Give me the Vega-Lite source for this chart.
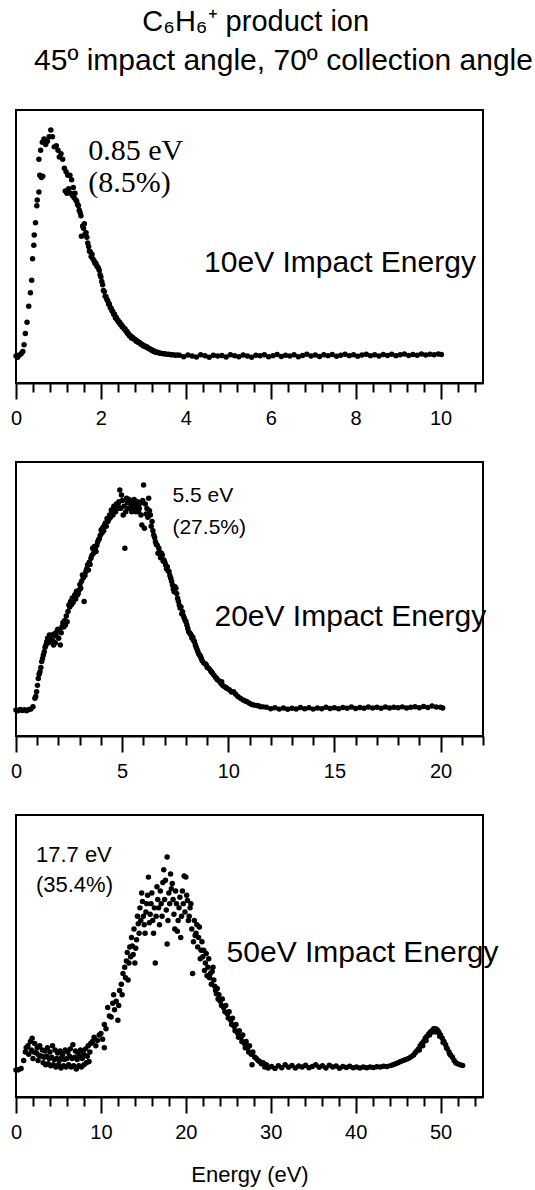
{
  "$schema": "https://vega.github.io/schema/vega-lite/v6.json",
  "background": "white",
  "padding": {"left": 9, "right": 5, "top": 8, "bottom": 5},
  "title": {"text": "C₆H₆⁺ product ion", "font": "Liberation Sans", "fontSize": 29, "fontWeight": "normal", "color": "black", "anchor": "middle", "dx": -16, "offset": 8},
  "spacing": 32,
  "config": {
    "view": {"stroke": "black", "strokeWidth": 2},
    "axis": {"labelFont": "Liberation Sans", "labelFontSize": 20, "labelColor": "black", "tickColor": "black", "tickWidth": 2, "domainColor": "black", "domainWidth": 2, "grid": false, "labelPadding": 9, "labelFlush": false, "labelOverlap": false, "labelBound": false, "titleFont": "Liberation Sans", "titleFontSize": 22, "titleFontWeight": "normal", "titleColor": "black"},
    "circle": {"color": "black", "size": 30, "opacity": 1},
    "text": {"color": "black"}
  },
  "vconcat": [
    {
      "width": 467, "height": 273,
      "title": {"text": "45º impact angle, 70º collection angle", "font": "Liberation Sans", "fontSize": 30, "fontWeight": "normal", "color": "black", "anchor": "middle", "dx": 34, "offset": 34},
      "encoding": {
        "x": {"field": "e", "type": "quantitative", "scale": {"domain": [0, 11], "nice": false, "zero": false},
          "axis": {"title": null, "values": [0,0.4,0.8,1.2,1.6,2,2.4,2.8,3.2,3.6,4,4.4,4.8,5.2,5.6,6,6.4,6.8,7.2,7.6,8,8.4,8.8,9.2,9.6,10,10.4,10.8],
            "labelExpr": "abs(datum.value/2-round(datum.value/2))<0.01 ? '' + round(datum.value) : ''",
            "tickSize": {"condition": {"test": "abs(datum.value/2-round(datum.value/2))<0.01", "value": 16}, "value": 9}}},
        "y": {"field": "i", "type": "quantitative", "scale": {"domain": [-0.119, 1.088], "nice": false, "zero": false}, "axis": null}
      },
      "layer": [
        {"data": {"values": [
          {"e":0.0,"i":0.0},{"e":0.04,"i":-0.005},{"e":0.08,"i":0.005},{"e":0.12,"i":0.01},{"e":0.16,"i":0.02},{"e":0.19,"i":0.05},{"e":0.22,"i":0.10},{"e":0.26,"i":0.15},{"e":0.30,"i":0.22},{"e":0.34,"i":0.28},{"e":0.37,"i":0.335},{"e":0.39,"i":0.43},{"e":0.42,"i":0.49},{"e":0.43,"i":0.535},{"e":0.46,"i":0.59},{"e":0.49,"i":0.665},{"e":0.50,"i":0.69},{"e":0.54,"i":0.725},{"e":0.56,"i":0.80},{"e":0.60,"i":0.79},{"e":0.63,"i":0.795},{"e":0.54,"i":0.87},{"e":0.58,"i":0.91},{"e":0.62,"i":0.945},{"e":0.66,"i":0.96},{"e":0.70,"i":0.935},{"e":0.74,"i":0.95},{"e":0.78,"i":0.97},{"e":0.82,"i":1.0},{"e":0.86,"i":0.97},{"e":0.90,"i":0.925},{"e":0.95,"i":0.93},{"e":0.99,"i":0.91},{"e":1.02,"i":0.88},{"e":1.06,"i":0.895},{"e":1.10,"i":0.87},{"e":1.14,"i":0.83},{"e":1.18,"i":0.815},{"e":1.22,"i":0.80},{"e":1.27,"i":0.80},{"e":1.31,"i":0.78},{"e":1.16,"i":0.73},{"e":1.20,"i":0.72},{"e":1.24,"i":0.74},{"e":1.29,"i":0.72},{"e":1.33,"i":0.71},{"e":1.37,"i":0.70},{"e":1.41,"i":0.69},{"e":1.45,"i":0.67},{"e":1.49,"i":0.645},{"e":1.53,"i":0.62},{"e":1.57,"i":0.575},{"e":1.54,"i":0.53},{"e":1.61,"i":0.585},{"e":1.65,"i":0.545},{"e":1.69,"i":0.50},{"e":1.73,"i":0.465},{"e":1.77,"i":0.44},{"e":1.81,"i":0.43},{"e":1.86,"i":0.41},{"e":1.90,"i":0.40},{"e":1.94,"i":0.39},{"e":1.98,"i":0.36},{"e":2.02,"i":0.33},{"e":2.06,"i":0.29},{"e":2.10,"i":0.265},{"e":2.14,"i":0.25},{"e":2.18,"i":0.23},{"e":2.22,"i":0.215},{"e":2.26,"i":0.20},{"e":2.30,"i":0.185},{"e":2.34,"i":0.17},{"e":2.38,"i":0.16},{"e":2.42,"i":0.15},{"e":2.46,"i":0.14},{"e":2.50,"i":0.13},{"e":2.55,"i":0.12},{"e":2.59,"i":0.11},{"e":2.63,"i":0.10},{"e":2.67,"i":0.09},{"e":2.72,"i":0.08},{"e":2.77,"i":0.075},{"e":2.83,"i":0.066},{"e":2.88,"i":0.06},{"e":2.94,"i":0.052},{"e":3.00,"i":0.045},{"e":3.06,"i":0.04},{"e":3.12,"i":0.033},{"e":3.18,"i":0.027},{"e":3.24,"i":0.02},{"e":3.30,"i":0.016},{"e":3.38,"i":0.013},{"e":3.46,"i":0.01},{"e":3.55,"i":0.008},{"e":3.65,"i":0.006},{"e":3.75,"i":0.004},
          {"e":1.35,"i":0.745},{"e":1.39,"i":0.72},{"e":1.43,"i":0.685},{"e":1.47,"i":0.665},{"e":1.51,"i":0.635},{"e":1.59,"i":0.565},{"e":1.63,"i":0.54},{"e":1.67,"i":0.525},{"e":1.71,"i":0.485},{"e":1.75,"i":0.46},{"e":1.79,"i":0.45},{"e":1.84,"i":0.42},{"e":1.88,"i":0.41},{"e":1.92,"i":0.395},{"e":1.96,"i":0.38},{"e":2.00,"i":0.35},{"e":2.04,"i":0.315},{"e":2.08,"i":0.285},{"e":2.12,"i":0.262},{"e":2.16,"i":0.245},{"e":2.20,"i":0.23},{"e":2.24,"i":0.212},{"e":2.28,"i":0.197},{"e":2.32,"i":0.185},{"e":2.36,"i":0.172},{"e":2.40,"i":0.16},{"e":2.44,"i":0.15},{"e":2.48,"i":0.14},{"e":2.52,"i":0.13},{"e":2.57,"i":0.12},{"e":2.61,"i":0.11},{"e":2.65,"i":0.10},{"e":2.70,"i":0.09},{"e":2.75,"i":0.082},{"e":2.80,"i":0.075},{"e":2.86,"i":0.067},{"e":2.91,"i":0.06},{"e":2.97,"i":0.052},{"e":3.03,"i":0.046},{"e":3.09,"i":0.04},{"e":3.15,"i":0.033},{"e":3.21,"i":0.027},{"e":3.27,"i":0.021},{"e":3.34,"i":0.017},{"e":3.42,"i":0.013},{"e":3.50,"i":0.01},{"e":3.60,"i":0.008},{"e":3.70,"i":0.006},{"e":3.80,"i":0.005},
          {"e":3.85,"i":0.004},{"e":3.95,"i":-0.003},{"e":4.05,"i":0.005},{"e":4.15,"i":0.0},{"e":4.25,"i":-0.004},{"e":4.35,"i":0.006},{"e":4.45,"i":0.001},{"e":4.55,"i":-0.005},{"e":4.65,"i":0.004},{"e":4.75,"i":0.0},{"e":4.85,"i":0.003},{"e":4.95,"i":-0.004},{"e":5.05,"i":0.006},{"e":5.15,"i":0.001},{"e":5.25,"i":-0.003},{"e":5.35,"i":0.005},{"e":5.45,"i":0.0},{"e":5.55,"i":-0.005},{"e":5.65,"i":0.004},{"e":5.75,"i":0.001},{"e":5.85,"i":0.006},{"e":5.95,"i":-0.003},{"e":6.05,"i":0.002},{"e":6.15,"i":0.007},{"e":6.25,"i":-0.002},{"e":6.35,"i":0.004},{"e":6.45,"i":0.0},{"e":6.55,"i":0.006},{"e":6.65,"i":-0.003},{"e":6.75,"i":0.003},{"e":6.85,"i":0.008},{"e":6.95,"i":0.0},{"e":7.05,"i":0.005},{"e":7.15,"i":-0.002},{"e":7.25,"i":0.006},{"e":7.35,"i":0.002},{"e":7.45,"i":0.007},{"e":7.55,"i":-0.001},{"e":7.65,"i":0.004},{"e":7.75,"i":0.008},{"e":7.85,"i":0.002},{"e":7.95,"i":0.006},{"e":8.05,"i":-0.001},{"e":8.15,"i":0.005},{"e":8.25,"i":0.008},{"e":8.35,"i":0.002},{"e":8.45,"i":0.006},{"e":8.55,"i":0.0},{"e":8.65,"i":0.007},{"e":8.75,"i":0.003},{"e":8.85,"i":0.008},{"e":8.95,"i":0.002},{"e":9.05,"i":0.006},{"e":9.15,"i":0.009},{"e":9.25,"i":0.003},{"e":9.35,"i":0.007},{"e":9.45,"i":0.004},{"e":9.55,"i":0.009},{"e":9.65,"i":0.005},{"e":9.75,"i":0.008},{"e":9.85,"i":0.006},{"e":9.95,"i":0.009},{"e":10.02,"i":0.007}
        ]}, "mark": {"type": "circle"}},
        {"data": {"values": [{"e":1.70,"i":0.867,"t":"0.85 eV"},{"e":1.70,"i":0.726,"t":"(8.5%)"}]},
          "mark": {"type": "text", "font": "Liberation Serif", "fontSize": 30, "align": "left", "baseline": "alphabetic"},
          "encoding": {"text": {"field": "t"}}},
        {"data": {"values": [{"e":4.43,"i":0.372,"t":"10eV Impact Energy"}]},
          "mark": {"type": "text", "font": "Liberation Sans", "fontSize": 30, "align": "left", "baseline": "alphabetic"},
          "encoding": {"text": {"field": "t"}}}
      ]
    },
    {
      "width": 467, "height": 274,
      "encoding": {
        "x": {"field": "e", "type": "quantitative", "scale": {"domain": [0, 22], "nice": false, "zero": false},
          "axis": {"title": null, "values": [0,1,2,3,4,5,6,7,8,9,10,11,12,13,14,15,16,17,18,19,20,21,22],
            "labelExpr": "datum.value % 5 === 0 && datum.value <= 20 ? datum.label : ''",
            "tickSize": {"condition": {"test": "datum.value % 5 === 0", "value": 16}, "value": 9}}},
        "y": {"field": "i", "type": "quantitative", "scale": {"domain": [-0.116, 1.107], "nice": false, "zero": false}, "axis": null}
      },
      "layer": [
        {"data": {"values": [
          {"e":0.0,"i":0.0},{"e":0.1,"i":-0.003},{"e":0.2,"i":0.002},{"e":0.3,"i":-0.002},{"e":0.4,"i":0.001},{"e":0.5,"i":-0.003},{"e":0.6,"i":0.002},{"e":0.7,"i":0.004},{"e":0.8,"i":0.015},
          {"e":0.89,"i":0.052},{"e":0.97,"i":0.082},{"e":1.05,"i":0.141},{"e":1.13,"i":0.171},{"e":1.21,"i":0.216},{"e":1.29,"i":0.246},{"e":1.45,"i":0.305},{"e":1.61,"i":0.312},{"e":1.69,"i":0.335},{"e":1.77,"i":0.29},{"e":1.93,"i":0.35},{"e":2.09,"i":0.29},{"e":2.17,"i":0.372},{"e":2.33,"i":0.38},{"e":2.41,"i":0.394},{"e":2.49,"i":0.469},{"e":2.57,"i":0.484},{"e":2.73,"i":0.50},{"e":2.89,"i":0.513},{"e":2.97,"i":0.536},{"e":3.05,"i":0.543},{"e":3.21,"i":0.484},{"e":3.13,"i":0.603},{"e":3.29,"i":0.618},{"e":3.37,"i":0.647},{"e":3.53,"i":0.677},{"e":3.61,"i":0.722},{"e":3.77,"i":0.707},{"e":3.85,"i":0.751},{"e":3.93,"i":0.766},{"e":4.01,"i":0.804},{"e":4.17,"i":0.826},{"e":4.33,"i":0.841},{"e":4.49,"i":0.893},{"e":4.65,"i":0.90},{"e":4.81,"i":0.915},{"e":4.89,"i":0.982},{"e":4.97,"i":0.96},{"e":5.05,"i":0.87},{"e":5.13,"i":0.722},{"e":5.21,"i":0.945},{"e":5.29,"i":0.90},{"e":5.37,"i":0.923},{"e":5.45,"i":0.885},{"e":5.53,"i":0.93},{"e":5.61,"i":0.90},{"e":5.69,"i":0.915},{"e":5.77,"i":0.885},{"e":5.85,"i":0.923},{"e":5.93,"i":0.826},{"e":6.01,"i":1.004},{"e":6.05,"i":0.811},{"e":6.17,"i":0.90},{"e":6.25,"i":0.945},{"e":6.33,"i":0.87},{"e":6.41,"i":0.841},{"e":6.49,"i":0.781},{"e":6.57,"i":0.751},{"e":6.73,"i":0.722},{"e":6.89,"i":0.692},{"e":7.05,"i":0.647},{"e":7.21,"i":0.618},{"e":7.29,"i":0.588},{"e":7.37,"i":0.558},{"e":7.45,"i":0.528},{"e":7.53,"i":0.543},{"e":7.61,"i":0.499},{"e":7.69,"i":0.469},{"e":7.85,"i":0.439},{"e":8.01,"i":0.394},{"e":8.09,"i":0.365},{"e":8.25,"i":0.335},{"e":8.41,"i":0.305},{"e":8.57,"i":0.26},{"e":8.73,"i":0.23},{"e":8.97,"i":0.20},{"e":9.21,"i":0.17},{"e":9.45,"i":0.141},{"e":9.69,"i":0.126},{"e":9.93,"i":0.097},{"e":10.25,"i":0.082},{"e":10.57,"i":0.052},{"e":10.88,"i":0.037},{"e":11.2,"i":0.022},{"e":11.52,"i":0.015},
          {"e":0.93,"i":0.06},{"e":1.01,"i":0.11},{"e":1.09,"i":0.16},{"e":1.17,"i":0.19},{"e":1.25,"i":0.23},{"e":1.33,"i":0.26},{"e":1.37,"i":0.28},{"e":1.41,"i":0.29},{"e":1.49,"i":0.32},{"e":1.53,"i":0.30},{"e":1.57,"i":0.335},{"e":1.65,"i":0.32},{"e":1.73,"i":0.31},{"e":1.81,"i":0.34},{"e":1.85,"i":0.30},{"e":1.89,"i":0.33},{"e":1.97,"i":0.36},{"e":2.01,"i":0.32},{"e":2.05,"i":0.355},{"e":2.13,"i":0.345},{"e":2.21,"i":0.39},{"e":2.25,"i":0.37},{"e":2.29,"i":0.40},{"e":2.37,"i":0.42},{"e":2.45,"i":0.44},{"e":2.53,"i":0.46},{"e":2.61,"i":0.47},{"e":2.65,"i":0.50},{"e":2.69,"i":0.48},{"e":2.77,"i":0.515},{"e":2.81,"i":0.495},{"e":2.85,"i":0.53},{"e":2.93,"i":0.52},{"e":3.01,"i":0.56},{"e":3.09,"i":0.575},{"e":3.17,"i":0.59},{"e":3.25,"i":0.60},{"e":3.33,"i":0.63},{"e":3.41,"i":0.625},{"e":3.45,"i":0.66},{"e":3.49,"i":0.65},{"e":3.57,"i":0.69},{"e":3.65,"i":0.70},{"e":3.69,"i":0.73},{"e":3.73,"i":0.72},{"e":3.81,"i":0.735},{"e":3.89,"i":0.76},{"e":3.97,"i":0.78},{"e":4.05,"i":0.79},{"e":4.09,"i":0.815},{"e":4.13,"i":0.80},{"e":4.21,"i":0.835},{"e":4.25,"i":0.82},{"e":4.29,"i":0.855},{"e":4.37,"i":0.85},{"e":4.41,"i":0.87},{"e":4.45,"i":0.86},{"e":4.53,"i":0.88},{"e":4.57,"i":0.87},{"e":4.61,"i":0.91},{"e":4.69,"i":0.885},{"e":4.73,"i":0.92},{"e":4.77,"i":0.90},{"e":4.85,"i":0.93},{"e":4.93,"i":0.90},{"e":5.01,"i":0.935},{"e":5.09,"i":0.91},{"e":5.17,"i":0.885},{"e":5.25,"i":0.925},{"e":5.33,"i":0.94},{"e":5.41,"i":0.90},{"e":5.49,"i":0.915},{"e":5.57,"i":0.94},{"e":5.65,"i":0.885},{"e":5.73,"i":0.93},{"e":5.81,"i":0.90},{"e":5.89,"i":0.87},{"e":5.97,"i":0.935},{"e":6.09,"i":0.92},{"e":6.13,"i":0.875},{"e":6.21,"i":0.86},{"e":6.29,"i":0.89},{"e":6.37,"i":0.82},{"e":6.45,"i":0.80},{"e":6.53,"i":0.77},{"e":6.61,"i":0.74},{"e":6.65,"i":0.735},{"e":6.69,"i":0.70},{"e":6.77,"i":0.705},{"e":6.81,"i":0.68},{"e":6.85,"i":0.70},{"e":6.93,"i":0.665},{"e":6.97,"i":0.67},{"e":7.01,"i":0.66},{"e":7.09,"i":0.63},{"e":7.13,"i":0.64},{"e":7.17,"i":0.62},{"e":7.25,"i":0.60},{"e":7.33,"i":0.575},{"e":7.41,"i":0.54},{"e":7.49,"i":0.55},{"e":7.57,"i":0.52},{"e":7.65,"i":0.485},{"e":7.73,"i":0.455},{"e":7.77,"i":0.46},{"e":7.81,"i":0.43},{"e":7.89,"i":0.42},{"e":7.93,"i":0.41},{"e":7.97,"i":0.40},{"e":8.05,"i":0.38},{"e":8.13,"i":0.35},{"e":8.17,"i":0.345},{"e":8.21,"i":0.34},{"e":8.29,"i":0.32},{"e":8.33,"i":0.325},{"e":8.37,"i":0.31},{"e":8.45,"i":0.29},{"e":8.49,"i":0.28},{"e":8.53,"i":0.27},{"e":8.61,"i":0.25},{"e":8.65,"i":0.245},{"e":8.69,"i":0.24},{"e":8.77,"i":0.22},{"e":8.85,"i":0.21},{"e":8.93,"i":0.205},{"e":9.01,"i":0.19},{"e":9.09,"i":0.185},{"e":9.17,"i":0.175},{"e":9.25,"i":0.165},{"e":9.33,"i":0.155},{"e":9.41,"i":0.145},{"e":9.49,"i":0.135},{"e":9.57,"i":0.13},{"e":9.65,"i":0.12},{"e":9.73,"i":0.11},{"e":9.81,"i":0.105},{"e":9.89,"i":0.10},{"e":10.05,"i":0.09},{"e":10.15,"i":0.08},{"e":10.35,"i":0.07},{"e":10.45,"i":0.06},{"e":10.70,"i":0.045},{"e":10.80,"i":0.04},{"e":11.00,"i":0.03},{"e":11.10,"i":0.025},{"e":11.35,"i":0.02},{"e":11.45,"i":0.018},{"e":11.65,"i":0.014},
          {"e":11.8,"i":0.012},{"e":12.0,"i":0.006},{"e":12.2,"i":0.01},{"e":12.4,"i":0.004},{"e":12.6,"i":0.009},{"e":12.8,"i":0.003},{"e":13.0,"i":0.008},{"e":13.2,"i":0.005},{"e":13.4,"i":0.011},{"e":13.6,"i":0.006},{"e":13.8,"i":0.01},{"e":14.0,"i":0.004},{"e":14.2,"i":0.009},{"e":14.4,"i":0.006},{"e":14.6,"i":0.012},{"e":14.8,"i":0.007},{"e":15.0,"i":0.01},{"e":15.2,"i":0.006},{"e":15.4,"i":0.011},{"e":15.6,"i":0.008},{"e":15.8,"i":0.013},{"e":16.0,"i":0.007},{"e":16.2,"i":0.011},{"e":16.4,"i":0.008},{"e":16.6,"i":0.013},{"e":16.8,"i":0.009},{"e":17.0,"i":0.012},{"e":17.2,"i":0.008},{"e":17.4,"i":0.013},{"e":17.6,"i":0.009},{"e":17.8,"i":0.012},{"e":18.0,"i":0.01},{"e":18.2,"i":0.014},{"e":18.4,"i":0.009},{"e":18.6,"i":0.012},{"e":18.8,"i":0.015},{"e":19.0,"i":0.01},{"e":19.2,"i":0.016},{"e":19.4,"i":0.011},{"e":19.6,"i":0.018},{"e":19.8,"i":0.013},{"e":20.0,"i":0.012},{"e":20.1,"i":0.009}
        ]}, "mark": {"type": "circle"}},
        {"data": {"values": [{"e":7.37,"i":0.929,"t":"5.5 eV"},{"e":7.37,"i":0.786,"t":"(27.5%)"}]},
          "mark": {"type": "text", "font": "Liberation Sans", "fontSize": 21, "align": "left", "baseline": "alphabetic"},
          "encoding": {"text": {"field": "t"}}},
        {"data": {"values": [{"e":9.35,"i":0.375,"t":"20eV Impact Energy"}]},
          "mark": {"type": "text", "font": "Liberation Sans", "fontSize": 30, "align": "left", "baseline": "alphabetic"},
          "encoding": {"text": {"field": "t"}}}
      ]
    },
    {
      "width": 467, "height": 282,
      "encoding": {
        "x": {"field": "e", "type": "quantitative", "scale": {"domain": [0, 55], "nice": false, "zero": false},
          "axis": {"title": "Energy (eV)", "titlePadding": 22, "values": [0,2,4,6,8,10,12,14,16,18,20,22,24,26,28,30,32,34,36,38,40,42,44,46,48,50,52,54],
            "labelExpr": "datum.value % 10 === 0 ? datum.label : ''",
            "tickSize": {"condition": {"test": "datum.value % 10 === 0", "value": 16}, "value": 9}}},
        "y": {"field": "i", "type": "quantitative", "scale": {"domain": [-0.132, 1.198], "nice": false, "zero": false}, "axis": null}
      },
      "layer": [
        {"data": {"values": [
          {"e":0.0,"i":-0.005},{"e":0.3,"i":-0.003},{"e":0.6,"i":0.002},{"e":0.9,"i":0.04},{"e":1.1,"i":0.08},{"e":1.2,"i":0.10},
          {"e":1.4,"i":0.11},{"e":1.7,"i":0.13},{"e":1.9,"i":0.145},{"e":2.2,"i":0.12},{"e":2.5,"i":0.10},{"e":2.8,"i":0.11},{"e":3.1,"i":0.09},{"e":3.4,"i":0.085},{"e":3.7,"i":0.10},{"e":4.0,"i":0.08},{"e":4.3,"i":0.11},{"e":4.6,"i":0.09},{"e":4.9,"i":0.075},{"e":5.2,"i":0.085},{"e":5.5,"i":0.07},{"e":5.8,"i":0.09},{"e":6.1,"i":0.08},{"e":6.4,"i":0.095},{"e":6.7,"i":0.115},{"e":7.0,"i":0.085},{"e":7.3,"i":0.075},{"e":7.6,"i":0.09},{"e":7.9,"i":0.08},{"e":8.2,"i":0.095},{"e":8.5,"i":0.11},{"e":8.8,"i":0.12},
          {"e":1.5,"i":0.07},{"e":1.8,"i":0.09},{"e":2.1,"i":0.08},{"e":2.4,"i":0.075},{"e":2.7,"i":0.065},{"e":3.0,"i":0.06},{"e":3.3,"i":0.055},{"e":3.6,"i":0.06},{"e":3.9,"i":0.05},{"e":4.2,"i":0.055},{"e":4.5,"i":0.045},{"e":4.8,"i":0.05},{"e":5.1,"i":0.04},{"e":5.4,"i":0.055},{"e":5.7,"i":0.045},{"e":6.0,"i":0.05},{"e":6.3,"i":0.06},{"e":6.6,"i":0.05},{"e":6.9,"i":0.055},{"e":7.2,"i":0.045},{"e":7.5,"i":0.06},{"e":7.8,"i":0.05},{"e":8.1,"i":0.065},{"e":8.4,"i":0.06},{"e":8.7,"i":0.08},
          {"e":2.0,"i":0.05},{"e":2.6,"i":0.04},{"e":3.2,"i":0.03},{"e":3.5,"i":0.02},{"e":3.8,"i":0.025},{"e":4.1,"i":0.015},{"e":4.4,"i":0.02},{"e":4.7,"i":0.01},{"e":5.0,"i":0.02},{"e":5.3,"i":0.005},{"e":5.6,"i":0.015},{"e":5.9,"i":0.01},{"e":6.2,"i":0.02},{"e":6.5,"i":0.01},{"e":6.8,"i":0.015},{"e":7.1,"i":0.0},{"e":7.4,"i":0.015},{"e":7.7,"i":0.01},{"e":8.0,"i":0.02},{"e":8.3,"i":0.03},{"e":8.6,"i":0.035},
          {"e":9.0,"i":0.13},{"e":9.2,"i":0.15},{"e":9.4,"i":0.11},{"e":9.6,"i":0.135},{"e":9.8,"i":0.16},{"e":10.0,"i":0.167},{"e":10.2,"i":0.14},{"e":10.4,"i":0.21},{"e":10.4,"i":0.10},{"e":10.6,"i":0.19},{"e":10.8,"i":0.29},{"e":11.0,"i":0.25},{"e":11.2,"i":0.245},{"e":11.4,"i":0.31},{"e":11.5,"i":0.35},{"e":11.6,"i":0.28},{"e":11.8,"i":0.32},{"e":12.0,"i":0.23},{"e":12.1,"i":0.30},{"e":12.2,"i":0.37},{"e":12.4,"i":0.40},{"e":12.5,"i":0.35},{"e":12.6,"i":0.45},{"e":12.8,"i":0.48},{"e":12.9,"i":0.43},{"e":13.0,"i":0.51},{"e":13.1,"i":0.55},{"e":13.2,"i":0.42},{"e":13.3,"i":0.50},{"e":13.4,"i":0.575},{"e":13.5,"i":0.53},{"e":13.6,"i":0.62},{"e":13.7,"i":0.58},{"e":13.8,"i":0.54},{"e":13.9,"i":0.66},{"e":14.0,"i":0.50},{"e":14.1,"i":0.57},{"e":14.2,"i":0.61},{"e":14.3,"i":0.72},{"e":14.4,"i":0.685},{"e":14.5,"i":0.64},{"e":14.6,"i":0.76},{"e":14.7,"i":0.70},{"e":14.8,"i":0.83},{"e":14.9,"i":0.79},{"e":15.0,"i":0.72},{"e":15.1,"i":0.68},{"e":15.2,"i":0.64},{"e":15.3,"i":0.74},{"e":15.4,"i":0.78},{"e":15.5,"i":0.82},{"e":15.6,"i":0.905},{"e":15.7,"i":0.69},{"e":15.8,"i":0.73},{"e":15.9,"i":0.78},{"e":16.0,"i":0.83},{"e":16.1,"i":0.70},{"e":16.2,"i":0.64},{"e":16.3,"i":0.76},{"e":16.4,"i":0.50},{"e":16.5,"i":0.72},{"e":16.6,"i":0.86},{"e":16.7,"i":0.80},{"e":16.8,"i":0.76},{"e":16.9,"i":0.68},{"e":17.0,"i":0.84},{"e":17.1,"i":0.78},{"e":17.2,"i":0.72},{"e":17.3,"i":0.88},{"e":17.4,"i":0.94},{"e":17.5,"i":0.80},{"e":17.6,"i":0.89},{"e":17.7,"i":0.75},{"e":17.8,"i":1.0},{"e":17.8,"i":0.59},{"e":17.9,"i":0.70},{"e":18.0,"i":0.83},{"e":18.1,"i":0.78},{"e":18.2,"i":0.92},{"e":18.3,"i":0.85},{"e":18.4,"i":0.875},{"e":18.5,"i":0.80},{"e":18.6,"i":0.73},{"e":18.7,"i":0.66},{"e":18.8,"i":0.84},{"e":18.9,"i":0.78},{"e":19.0,"i":0.65},{"e":19.1,"i":0.70},{"e":19.2,"i":0.76},{"e":19.3,"i":0.81},{"e":19.4,"i":0.62},{"e":19.5,"i":0.72},{"e":19.6,"i":0.84},{"e":19.7,"i":0.78},{"e":19.8,"i":0.91},{"e":19.9,"i":0.74},{"e":20.0,"i":0.905},{"e":20.1,"i":0.82},{"e":20.2,"i":0.795},{"e":20.3,"i":0.70},{"e":20.4,"i":0.72},{"e":20.5,"i":0.76},{"e":20.6,"i":0.78},{"e":20.7,"i":0.66},{"e":20.8,"i":0.45},{"e":20.9,"i":0.60},{"e":21.0,"i":0.70},{"e":21.1,"i":0.63},{"e":21.2,"i":0.64},{"e":21.3,"i":0.68},{"e":21.4,"i":0.575},{"e":21.5,"i":0.62},{"e":21.6,"i":0.67},{"e":21.7,"i":0.52},{"e":21.8,"i":0.56},{"e":21.9,"i":0.60},{"e":22.0,"i":0.53},{"e":22.1,"i":0.56},{"e":22.2,"i":0.465},{"e":22.3,"i":0.50},{"e":22.4,"i":0.545},{"e":22.5,"i":0.44},{"e":22.6,"i":0.48},{"e":22.7,"i":0.52},{"e":22.8,"i":0.43},{"e":22.9,"i":0.45},{"e":23.0,"i":0.40},{"e":23.1,"i":0.46},{"e":23.2,"i":0.48},{"e":23.3,"i":0.42},{"e":23.4,"i":0.39},{"e":23.5,"i":0.37},{"e":23.6,"i":0.355},{"e":23.7,"i":0.38},{"e":23.8,"i":0.33},{"e":23.9,"i":0.35},{"e":24.05,"i":0.32},{"e":24.2,"i":0.30},{"e":24.3,"i":0.33},{"e":24.45,"i":0.29},{"e":24.6,"i":0.27},{"e":24.7,"i":0.30},{"e":24.9,"i":0.26},{"e":25.0,"i":0.24},{"e":25.1,"i":0.27},{"e":25.3,"i":0.23},{"e":25.4,"i":0.21},{"e":25.5,"i":0.24},{"e":25.7,"i":0.20},{"e":25.8,"i":0.18},{"e":25.9,"i":0.21},{"e":26.1,"i":0.17},{"e":26.2,"i":0.15},{"e":26.3,"i":0.18},{"e":26.5,"i":0.15},{"e":26.6,"i":0.13},{"e":26.7,"i":0.16},{"e":26.9,"i":0.12},{"e":27.0,"i":0.10},{"e":27.1,"i":0.13},{"e":27.3,"i":0.10},{"e":27.4,"i":0.08},{"e":27.5,"i":0.11},{"e":27.7,"i":0.07},{"e":27.8,"i":0.02},{"e":27.9,"i":0.08},{"e":28.1,"i":0.057},{"e":28.3,"i":0.05},{"e":28.5,"i":0.04},{"e":28.7,"i":0.035},{"e":28.9,"i":0.025},{"e":29.1,"i":0.03},{"e":29.3,"i":0.01},{"e":29.5,"i":0.02},
          {"e":29.7,"i":0.005},{"e":30.1,"i":0.012},{"e":30.5,"i":0.003},{"e":30.9,"i":0.015},{"e":31.3,"i":0.006},{"e":31.7,"i":0.02},{"e":32.1,"i":0.008},{"e":32.5,"i":0.017},{"e":32.9,"i":0.005},{"e":33.3,"i":0.014},{"e":33.7,"i":0.009},{"e":34.1,"i":0.018},{"e":34.5,"i":0.006},{"e":34.9,"i":0.012},{"e":35.3,"i":0.02},{"e":35.7,"i":0.008},{"e":36.1,"i":0.015},{"e":36.5,"i":0.005},{"e":36.9,"i":0.018},{"e":37.3,"i":0.009},{"e":37.7,"i":0.014},{"e":38.1,"i":0.004},{"e":38.5,"i":0.012},{"e":38.9,"i":0.007},{"e":39.3,"i":0.013},{"e":39.7,"i":0.006},{"e":40.1,"i":0.01},{"e":40.5,"i":0.005},{"e":40.9,"i":0.009},{"e":41.3,"i":0.006},{"e":41.7,"i":0.01},{"e":42.1,"i":0.007},{"e":42.5,"i":0.011},{"e":42.9,"i":0.009},{"e":43.3,"i":0.013},{"e":43.7,"i":0.012},{"e":44.1,"i":0.016},
          {"e":44.4,"i":0.02},{"e":44.7,"i":0.025},{"e":45.0,"i":0.03},{"e":45.3,"i":0.035},{"e":45.6,"i":0.04},{"e":45.9,"i":0.045},{"e":46.2,"i":0.05},{"e":46.5,"i":0.057},{"e":46.8,"i":0.065},{"e":47.0,"i":0.075},{"e":47.2,"i":0.085},{"e":47.4,"i":0.095},{"e":47.6,"i":0.11},{"e":47.8,"i":0.12},{"e":48.0,"i":0.13},{"e":48.2,"i":0.145},{"e":48.4,"i":0.155},{"e":48.6,"i":0.165},{"e":48.8,"i":0.175},{"e":49.0,"i":0.18},{"e":49.2,"i":0.19},{"e":49.4,"i":0.19},{"e":49.6,"i":0.185},{"e":49.8,"i":0.175},{"e":50.0,"i":0.16},{"e":50.2,"i":0.145},{"e":50.4,"i":0.13},{"e":50.6,"i":0.115},{"e":50.8,"i":0.095},{"e":51.0,"i":0.08},{"e":51.2,"i":0.065},{"e":51.4,"i":0.055},{"e":51.6,"i":0.04},{"e":51.8,"i":0.03},{"e":52.0,"i":0.025},{"e":52.3,"i":0.02},{"e":52.6,"i":0.017},
          {"e":47.5,"i":0.09},{"e":47.9,"i":0.11},{"e":48.3,"i":0.135},{"e":48.7,"i":0.16},{"e":49.1,"i":0.175},{"e":49.5,"i":0.175},{"e":49.9,"i":0.155},{"e":50.3,"i":0.125},{"e":50.7,"i":0.10},{"e":51.1,"i":0.07}
        ]}, "mark": {"type": "circle"}},
        {"data": {"values": [{"e":2.35,"i":0.976,"t":"17.7 eV"},{"e":2.35,"i":0.835,"t":"(35.4%)"}]},
          "mark": {"type": "text", "font": "Liberation Sans", "fontSize": 22, "align": "left", "baseline": "alphabetic"},
          "encoding": {"text": {"field": "t"}}},
        {"data": {"values": [{"e":24.8,"i":0.505,"t":"50eV Impact Energy"}]},
          "mark": {"type": "text", "font": "Liberation Sans", "fontSize": 30, "align": "left", "baseline": "alphabetic"},
          "encoding": {"text": {"field": "t"}}}
      ]
    }
  ]
}
